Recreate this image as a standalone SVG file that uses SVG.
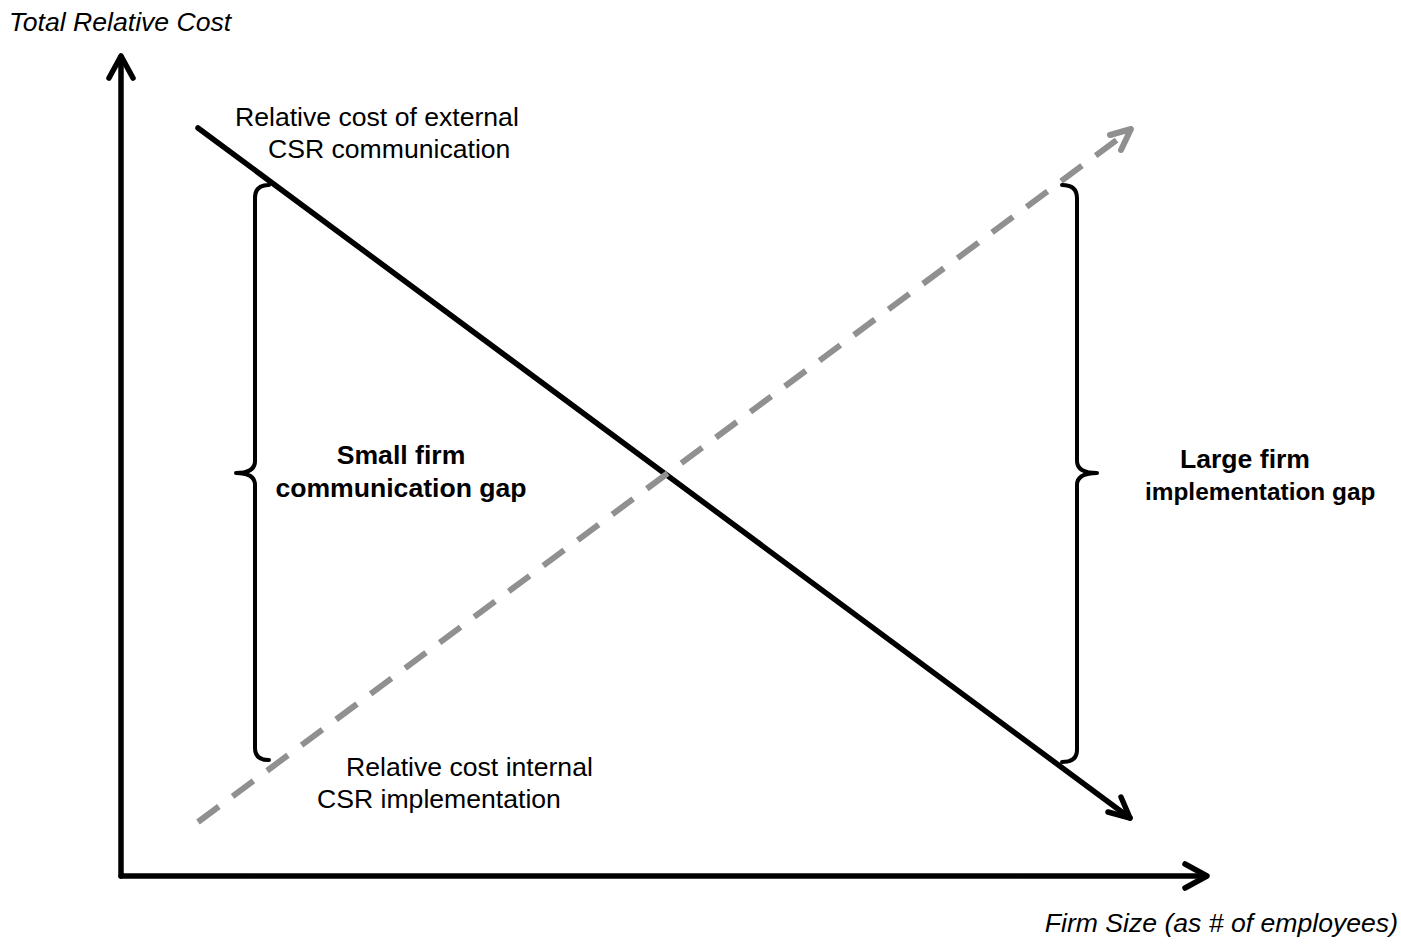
<svg xmlns="http://www.w3.org/2000/svg" width="1401" height="944" viewBox="0 0 1401 944">
  <style>
    .lbl { font-family: "Liberation Sans", Arial, sans-serif; font-size: 26.6px; fill: #000; }
    .it { font-style: italic; }
    .bd { font-weight: bold; }
    .sm { font-size: 24.4px; }
    .ax { fill: none; stroke: #000; stroke-width: 5.5; stroke-linecap: round; stroke-linejoin: round; }
    .ext { fill: none; stroke: #000; stroke-width: 5.5; stroke-linecap: round; stroke-linejoin: round; }
    .int { fill: none; stroke: #909090; stroke-width: 6; stroke-linejoin: round; }
    .brace { fill: none; stroke: #000; stroke-width: 4; stroke-linecap: round; stroke-linejoin: round; }
  </style>

  <rect width="1401" height="944" fill="#fff"/>

  <g id="connectors">
    <!-- axes -->
    <path class="ax" d="M121,876 V57"/>
    <polyline class="ax" points="109,78 121,56 133,78"/>
    <path class="ax" d="M121,876 H1206"/>
    <polyline class="ax" points="1185,864 1207,876 1185,888"/>
    <!-- external communication cost (falling) -->
    <path class="ext" d="M198,128 L1130,818"/>
    <polyline class="ext" points="1108,812 1130,818 1121,797"/>
    <!-- internal implementation cost (rising, dashed) -->
    <path class="int" d="M198,822 L1122,136" stroke-dasharray="26 17"/>
    <polyline class="int" points="1110,135 1131,129 1121,150" stroke-linecap="round"/>
  </g>

  <g id="brace-small">
    <path class="brace" d="M269,185 Q255,185 255,198 V461 Q255,473 236,473 Q255,473 255,485 V748 Q255,760 269,760"/>
  </g>
  <g id="brace-large">
    <path class="brace" d="M1062,185 Q1077,185 1077,198 V461 Q1077,473 1097,473 Q1077,473 1077,485 V750 Q1077,762 1062,762"/>
  </g>

  <g id="y-label">
    <text class="lbl it" x="9" y="31">Total Relative Cost</text>
  </g>
  <g id="x-label">
    <text class="lbl it" x="1398" y="932" text-anchor="end">Firm Size (as # of employees)</text>
  </g>
  <g id="external-label">
    <text class="lbl" x="235" y="126">Relative cost of external</text>
    <text class="lbl" x="268" y="158">CSR communication</text>
  </g>
  <g id="internal-label">
    <text class="lbl" x="346" y="776">Relative cost internal</text>
    <text class="lbl" x="317" y="808">CSR implementation</text>
  </g>
  <g id="small-gap">
    <text class="lbl bd" x="401" y="464" text-anchor="middle">Small firm</text>
    <text class="lbl bd" x="401" y="497" text-anchor="middle">communication gap</text>
  </g>
  <g id="large-gap">
    <text class="lbl bd" x="1245" y="468" text-anchor="middle">Large firm</text>
    <text class="lbl bd sm" x="1145" y="500">implementation gap</text>
  </g>
</svg>
